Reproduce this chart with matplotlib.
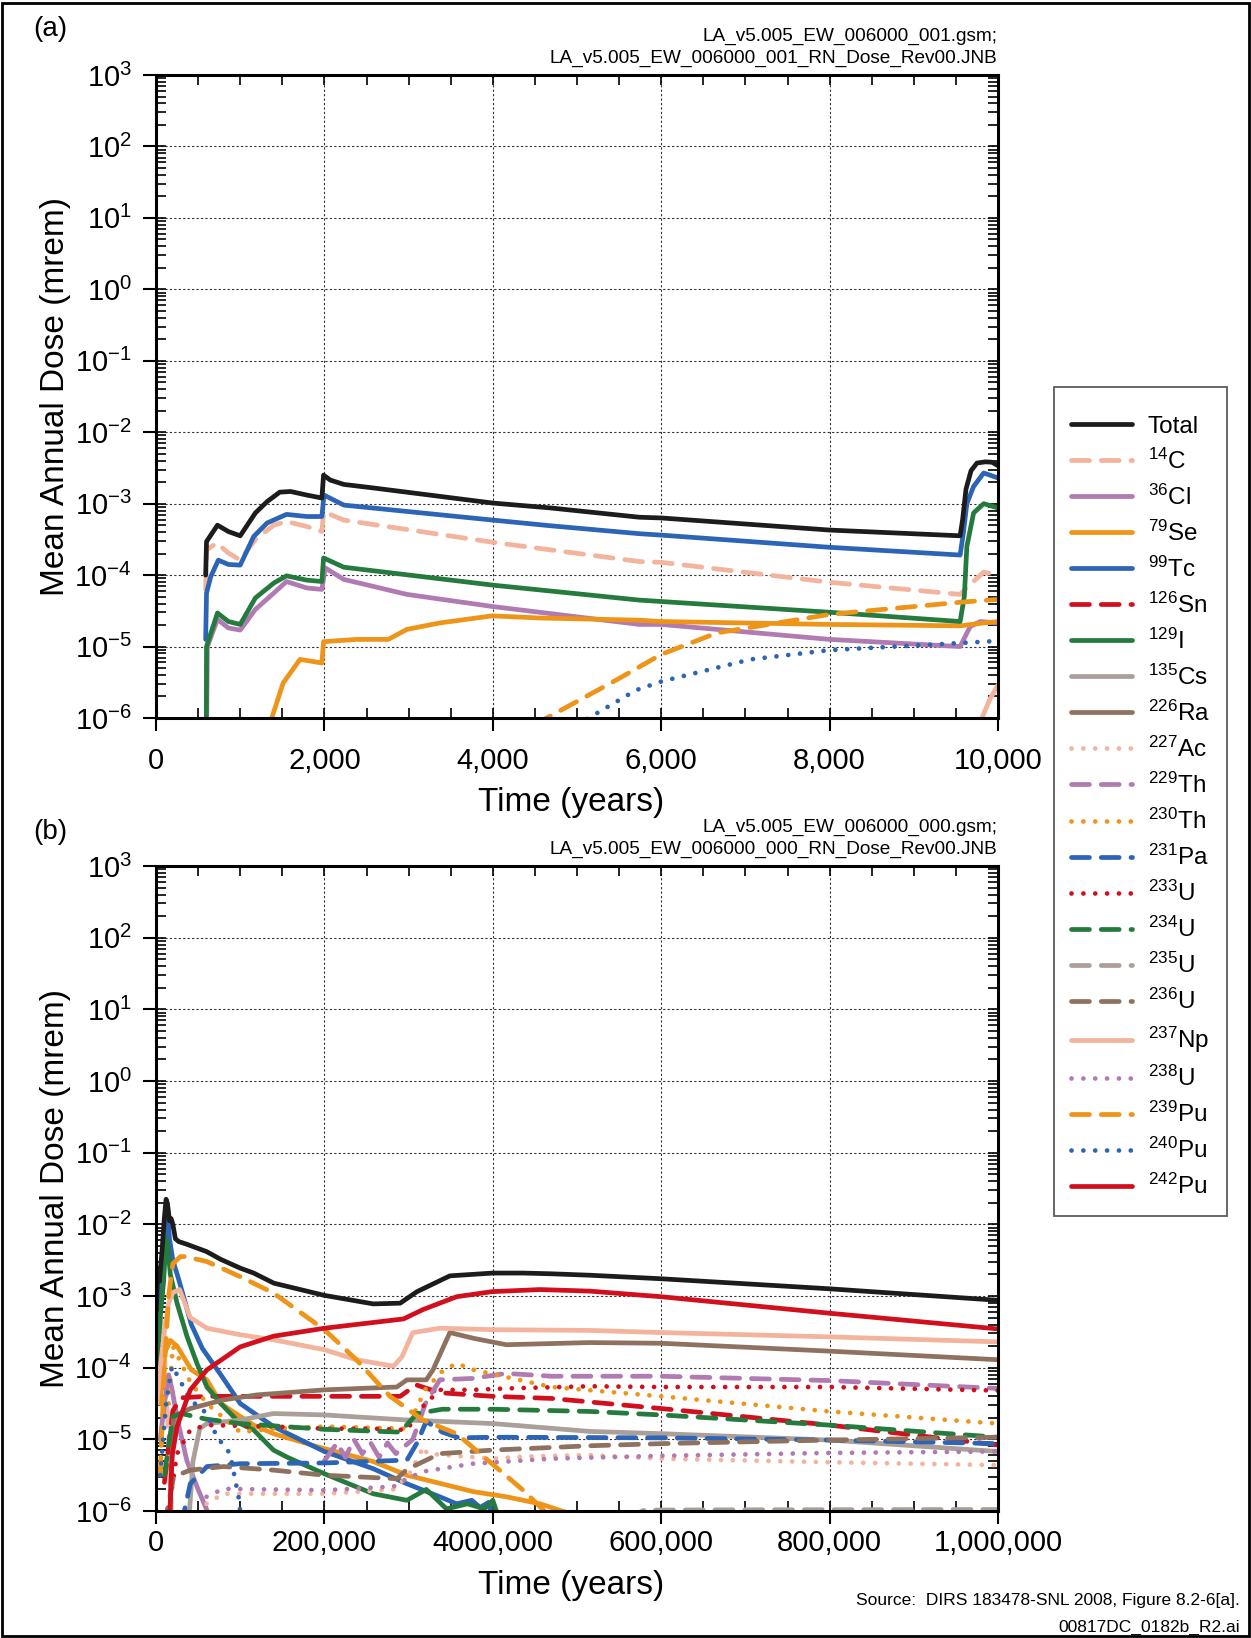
import matplotlib
matplotlib.use("Agg")
import matplotlib.pyplot as plt
from matplotlib.lines import Line2D
from matplotlib.patches import Rectangle
from matplotlib.ticker import MultipleLocator, LogLocator, NullFormatter

plt.rcParams['font.family'] = ['Liberation Sans', 'DejaVu Sans']
plt.rcParams['mathtext.fontset'] = 'custom'
plt.rcParams['mathtext.rm'] = 'Liberation Sans'
plt.rcParams['mathtext.it'] = 'Liberation Sans:italic'
plt.rcParams['mathtext.bf'] = 'Liberation Sans:bold'

# ---------------- legend / series definitions ----------------
nuclides = ['Total', '14C', '36Cl', '79Se', '99Tc', '126Sn', '129I', '135Cs', '226Ra',
            '227Ac', '229Th', '230Th', '231Pa', '233U', '234U', '235U', '236U',
            '237Np', '238U', '239Pu', '240Pu', '242Pu']
legend_labels = ['Total', r'$^{14}$C', r'$^{36}$Cl', r'$^{79}$Se', r'$^{99}$Tc', r'$^{126}$Sn',
                 r'$^{129}$I', r'$^{135}$Cs', r'$^{226}$Ra', r'$^{227}$Ac', r'$^{229}$Th',
                 r'$^{230}$Th', r'$^{231}$Pa', r'$^{233}$U', r'$^{234}$U', r'$^{235}$U',
                 r'$^{236}$U', r'$^{237}$Np', r'$^{238}$U', r'$^{239}$Pu', r'$^{240}$Pu',
                 r'$^{242}$Pu']
BLACK, SALMON, PURPLE, ORANGE = '#1c1c1c', '#F3B39C', '#B07AB2', '#EE9419'
BLUE, RED, GREEN, GRAY, BROWN = '#2C65B5', '#D2101D', '#257A3D', '#AA9F99', '#8E725F'
colors = [BLACK, SALMON, PURPLE, ORANGE, BLUE, RED, GREEN, GRAY, BROWN,
          SALMON, PURPLE, ORANGE, BLUE, RED, GREEN, GRAY, BROWN,
          SALMON, PURPLE, ORANGE, BLUE, RED]
styles = ['solid', 'dashed', 'solid', 'solid', 'solid', 'dashed', 'solid', 'solid', 'solid',
          'dotted', 'dashed', 'dotted', 'dashed', 'dotted', 'dashed', 'dashed', 'dashed',
          'solid', 'dotted', 'dashed', 'dotted', 'solid']

# ---------------- panel (a): 10,000 years ----------------
a_total_t = [590, 600, 730, 860, 1000, 1180, 1320, 1470, 1600, 1790, 1970, 1990, 2070, 2230, 2580,
             4000, 4690, 5740, 6000, 8000, 9550, 9580, 9620, 9680, 9750, 9850, 9930, 10000]
a_total_v = [1.0e-4, 2.95e-4, 5.0e-4, 4.07e-4, 3.55e-4, 7.41e-4, 1.07e-3, 1.45e-3, 1.48e-3, 1.32e-3,
             1.20e-3, 2.51e-3, 2.14e-3, 1.86e-3, 1.66e-3, 1.02e-3, 8.7e-4, 6.46e-4, 6.31e-4, 4.27e-4,
             3.55e-4, 6.0e-4, 1.6e-3, 2.9e-3, 3.7e-3, 3.85e-3, 3.8e-3, 3.4e-3]
a_tc99_t = [590, 600, 650, 740, 860, 1000, 1160, 1320, 1550, 1790, 1970, 1995, 2230, 4000, 4690, 5740,
            6000, 8000, 9550, 9590, 9630, 9710, 9830, 10000]
a_tc99_v = [1.26e-5, 5.62e-5, 9.5e-5, 1.62e-4, 1.41e-4, 1.38e-4, 3.47e-4, 5.37e-4, 7.08e-4, 6.61e-4,
            6.61e-4, 1.32e-3, 9.55e-4, 5.89e-4, 4.90e-4, 3.80e-4, 3.63e-4, 2.45e-4, 1.91e-4, 3.98e-4,
            1.0e-3, 1.74e-3, 2.69e-3, 2.29e-3]
a_c14_t = [590, 600, 720, 860, 1000, 1180, 1400, 1550, 1790, 1970, 1990, 2230, 4000, 5740, 6000, 8000,
           9550, 9650, 9830, 10000]
a_c14_v = [6.31e-5, 2.24e-4, 2.82e-4, 2.04e-4, 1.62e-4, 3.16e-4, 5.01e-4, 5.62e-4, 4.79e-4, 4.07e-4,
           7.76e-4, 5.89e-4, 2.88e-4, 1.55e-4, 1.51e-4, 7.94e-5, 5.37e-5, 7.08e-5, 1.10e-4, 1.0e-4]
a_i129_t = [595, 600, 730, 860, 1000, 1180, 1400, 1550, 1790, 1970, 1990, 2230, 4000, 5740, 6000, 8000,
            9550, 9600, 9630, 9710, 9830, 10000]
a_i129_v = [1e-7, 1.0e-5, 2.95e-5, 2.24e-5, 2.04e-5, 4.79e-5, 7.76e-5, 9.77e-5, 8.51e-5, 8.13e-5,
            1.74e-4, 1.29e-4, 7.24e-5, 4.47e-5, 4.27e-5, 3.02e-5, 2.24e-5, 5.0e-5, 2.51e-4, 7.41e-4,
            1.0e-3, 8.71e-4]
a_cl36_t = [595, 610, 730, 860, 1000, 1180, 1400, 1550, 1790, 1970, 2010, 2230, 2980, 4000, 5740, 6000,
            8000, 9550, 9670, 9790, 10000]
a_cl36_v = [1e-7, 1.0e-5, 2.40e-5, 1.82e-5, 1.70e-5, 3.31e-5, 5.62e-5, 8.13e-5, 6.61e-5, 6.31e-5,
            1.26e-4, 8.71e-5, 5.37e-5, 3.63e-5, 2.04e-5, 2.04e-5, 1.26e-5, 1.0e-5, 1.91e-5, 2.24e-5,
            2.14e-5]
a_se79_t = [1340, 1375, 1510, 1710, 1970, 1990, 2380, 2760, 2980, 3370, 3990, 4560, 5740, 6000, 8000,
            9550, 9830, 10000]
a_se79_v = [5e-7, 1.0e-6, 3.09e-6, 6.61e-6, 5.89e-6, 1.17e-5, 1.26e-5, 1.26e-5, 1.74e-5, 2.14e-5,
            2.69e-5, 2.51e-5, 2.34e-5, 2.24e-5, 2.04e-5, 1.95e-5, 2.14e-5, 2.24e-5]
a_pu239_t = [4500, 4640, 5480, 6000, 6660, 8000, 9550, 10000]
a_pu239_v = [7.94e-7, 1.0e-6, 3.47e-6, 7.76e-6, 1.55e-5, 2.82e-5, 4.17e-5, 4.57e-5]
a_pu240_t = [5000, 5140, 5700, 6000, 7060, 8000, 9550, 10000]
a_pu240_v = [7.94e-7, 1.0e-6, 2.45e-6, 3.24e-6, 6.61e-6, 8.91e-6, 1.12e-5, 1.20e-5]
a_np237_t = [9790, 9810, 9900, 10000]
a_np237_v = [5e-7, 1.0e-6, 1.8e-6, 2.9e-6]

# ---------------- panel (b): 1,000,000 years ----------------
b_total_t = [500, 2000, 4000, 7000, 10000, 12000, 14000, 16000, 18000, 20000, 23000, 27000, 37000,
             60000, 77000, 100000, 116000, 140000, 200000, 258000, 290000, 310000, 349000, 400000,
             436000, 470000, 515000, 600000, 800000, 1000000]
b_total_v = [6.3e-4, 2.4e-3, 1.6e-3, 4.0e-3, 1.26e-2, 2.24e-2, 1.78e-2, 1.12e-2, 1.2e-2, 1.0e-2,
             6.3e-3, 5.75e-3, 5.25e-3, 4.17e-3, 3.24e-3, 2.45e-3, 2.09e-3, 1.51e-3, 1.02e-3, 7.76e-4,
             7.94e-4, 1.15e-3, 1.91e-3, 2.09e-3, 2.09e-3, 2.04e-3, 1.95e-3, 1.74e-3, 1.26e-3, 8.71e-4]
b_pu242_t = [15000, 19000, 25000, 40700, 60500, 100000, 139500, 200000, 258000, 294000, 317000,
             357000, 399000, 456000, 515000, 600000, 800000, 1000000]
b_pu242_v = [3.16e-7, 5.75e-6, 1.51e-5, 4.90e-5, 9.33e-5, 1.95e-4, 2.75e-4, 3.55e-4, 4.27e-4,
             4.79e-4, 6.46e-4, 9.77e-4, 1.15e-3, 1.23e-3, 1.17e-3, 9.77e-4, 5.75e-4, 3.47e-4]
b_np237_t = [1000, 5000, 10000, 15000, 20000, 28000, 40700, 60500, 100000, 139500, 200000, 238000,
             282000, 292000, 305000, 337000, 400000, 515000, 600000, 800000, 1000000]
b_np237_v = [3.16e-5, 1.0e-4, 3.16e-4, 7.94e-4, 1.12e-3, 1.23e-3, 5.0e-4, 3.55e-4, 2.88e-4, 2.45e-4,
             1.78e-4, 1.29e-4, 1.05e-4, 1.41e-4, 3.09e-4, 3.55e-4, 3.39e-4, 3.31e-4, 3.09e-4, 2.69e-4,
             2.29e-4]
b_ra226_t = [15000, 21000, 40700, 80000, 120000, 200000, 286000, 298000, 321000, 329000, 349000,
             377000, 416000, 515000, 600000, 800000, 1000000]
b_ra226_v = [3.16e-7, 2.09e-5, 2.69e-5, 3.55e-5, 4.17e-5, 4.90e-5, 5.37e-5, 6.76e-5, 6.76e-5,
             9.33e-5, 3.09e-4, 2.57e-4, 2.09e-4, 2.24e-4, 2.19e-4, 1.70e-4, 1.29e-4]
b_pu239_t = [5000, 10000, 15000, 20000, 29000, 35000, 60500, 100000, 139500, 200000, 238000, 278000,
             317000, 357000, 399000, 436000, 470000]
b_pu239_v = [3.16e-6, 1.0e-4, 1.0e-3, 2.82e-3, 3.55e-3, 3.55e-3, 3.02e-3, 1.86e-3, 1.10e-3, 3.39e-4,
             1.29e-4, 3.98e-5, 1.86e-5, 1.20e-5, 4.57e-6, 1.95e-6, 7.94e-7]
b_tc99_t = [1000, 5000, 9000, 12000, 13500, 16000, 20000, 27000, 42000, 55000, 77000, 100000, 139500,
            200000, 258000, 298000, 337000, 357000, 375000, 385000, 395000, 402000]
b_tc99_v = [3.16e-4, 1.0e-3, 3.16e-3, 1.78e-2, 2.0e-2, 6.31e-3, 3.16e-3, 1.70e-3, 3.98e-4, 1.86e-4,
            7.94e-5, 3.16e-5, 1.51e-5, 6.76e-6, 3.89e-6, 2.40e-6, 1.58e-6, 1.26e-6, 1.41e-6, 1.12e-6,
            1.32e-6, 6.31e-7]
b_i129_t = [1000, 5000, 9000, 12000, 14000, 17000, 25000, 37000, 49000, 60500, 77000, 100000, 116000,
            139500, 156000, 200000, 258000, 298000, 321000, 345000, 370000, 390000, 400000, 410000]
b_i129_v = [1.0e-4, 5.01e-4, 1.58e-3, 6.31e-3, 5.01e-3, 2.0e-3, 7.94e-4, 2.69e-4, 1.12e-4, 5.37e-5,
            3.16e-5, 1.66e-5, 1.35e-5, 7.08e-6, 5.62e-6, 3.31e-6, 1.74e-6, 1.41e-6, 2.0e-6, 1.07e-6,
            1.26e-6, 1.07e-6, 1.41e-6, 6.31e-7]
b_se79_t = [5000, 10000, 17000, 25000, 42000, 60500, 77000, 100000, 116000, 139500, 191000, 258000,
            298000, 377000, 416000, 456000, 495000]
b_se79_v = [3.16e-5, 1.58e-4, 2.40e-4, 2.0e-4, 9.33e-5, 6.76e-5, 3.16e-5, 2.09e-5, 1.58e-5, 1.20e-5,
            7.94e-6, 4.90e-6, 3.16e-6, 1.86e-6, 1.58e-6, 1.26e-6, 8.91e-7]
b_pu240_t = [5000, 12000, 19000, 25000, 40700, 60500, 72000, 88000, 98000, 102000]
b_pu240_v = [3.16e-6, 3.16e-5, 1.05e-4, 7.94e-5, 3.55e-5, 2.29e-5, 1.10e-5, 6.31e-6, 1.58e-6, 6.31e-7]
b_sn126_t = [10000, 20000, 30000, 60500, 200000, 290000, 309000, 337000, 400000, 470000, 600000,
             800000, 1000000]
b_sn126_v = [2.51e-6, 2.51e-5, 3.80e-5, 3.98e-5, 3.98e-5, 3.98e-5, 5.75e-5, 4.47e-5, 3.98e-5, 3.72e-5,
             2.69e-5, 1.58e-5, 8.32e-6]
b_u234_t = [10000, 20000, 30000, 60000, 100000, 200000, 290000, 310000, 340000, 400000, 515000,
            600000, 800000, 1000000]
b_u234_v = [3.16e-6, 2.09e-5, 2.29e-5, 1.91e-5, 1.66e-5, 1.38e-5, 1.26e-5, 2.29e-5, 2.63e-5, 2.63e-5,
            2.45e-5, 2.19e-5, 1.58e-5, 1.07e-5]
b_cs135_t = [38000, 44000, 52000, 60500, 100000, 139500, 200000, 298000, 400000, 515000, 600000,
             800000, 1000000]
b_cs135_v = [5.01e-7, 5.01e-6, 1.41e-5, 1.66e-5, 1.86e-5, 2.29e-5, 2.19e-5, 1.86e-5, 1.66e-5,
             1.29e-5, 1.20e-5, 9.77e-6, 6.76e-6]
b_pa231_t = [30000, 40700, 60500, 100000, 200000, 298000, 310000, 321000, 340000, 360000, 400000,
             600000, 800000, 1000000]
b_pa231_v = [6.31e-7, 2.40e-6, 4.17e-6, 4.57e-6, 4.68e-6, 5.13e-6, 8.91e-6, 1.78e-5, 1.26e-5,
             1.05e-5, 1.07e-5, 1.05e-5, 9.77e-6, 8.71e-6]
b_u236_t = [10000, 21000, 40700, 80000, 139500, 200000, 286000, 298000, 337000, 400000, 515000,
            600000, 800000, 1000000]
b_u236_v = [6.31e-7, 3.02e-6, 3.72e-6, 4.17e-6, 3.72e-6, 3.16e-6, 2.82e-6, 3.80e-6, 6.31e-6, 7.08e-6,
            8.13e-6, 8.71e-6, 9.77e-6, 1.07e-5]
b_u238_t = [60000, 80000, 200000, 282000, 298000, 317000, 376000, 470000, 600000, 800000, 1000000]
b_u238_v = [1.58e-6, 2.04e-6, 1.95e-6, 2.19e-6, 2.82e-6, 3.55e-6, 4.57e-6, 5.37e-6, 5.89e-6, 6.46e-6,
            6.76e-6]
b_ac227_t = [60000, 80000, 200000, 282000, 300000, 318000, 322000, 400000, 436000, 515000, 600000,
             800000, 1000000]
b_ac227_v = [1.26e-6, 1.74e-6, 1.74e-6, 2.0e-6, 3.16e-6, 7.94e-6, 6.31e-6, 5.37e-6, 5.75e-6, 6.03e-6,
             5.37e-6, 4.79e-6, 4.37e-6]
b_u233_t = [15000, 25000, 40700, 60500, 139500, 200000, 258000, 298000, 317000, 337000, 376000,
            416000, 515000, 600000, 800000, 1000000]
b_u233_v = [1.0e-6, 6.31e-6, 1.35e-5, 1.58e-5, 1.51e-5, 1.41e-5, 1.41e-5, 1.35e-5, 2.88e-5, 4.90e-5,
            4.90e-5, 5.13e-5, 5.50e-5, 5.37e-5, 5.37e-5, 4.79e-5]
b_th230_t = [15000, 20000, 40700, 60500, 100000, 139500, 200000, 298000, 320000, 340000, 357000,
             377000, 470000, 600000, 800000, 1000000]
b_th230_v = [3.16e-5, 2.0e-4, 6.31e-5, 3.16e-5, 1.26e-5, 1.41e-5, 1.51e-5, 1.41e-5, 5.01e-5, 8.91e-5,
             1.15e-4, 9.33e-5, 5.37e-5, 3.98e-5, 2.45e-5, 1.66e-5]
b_th229_t = [200000, 215000, 225000, 235000, 245000, 255000, 265000, 275000, 285000, 295000, 305000,
             320000, 337000, 376000, 416000, 470000, 600000, 800000, 1000000]
b_th229_v = [5.01e-6, 8.91e-6, 5.62e-6, 1.0e-5, 6.31e-6, 8.91e-6, 5.62e-6, 8.91e-6, 6.31e-6, 7.94e-6,
             1.0e-5, 3.16e-5, 6.76e-5, 7.08e-5, 8.32e-5, 7.59e-5, 7.59e-5, 6.61e-5, 5.13e-5]
b_cl36_t = [5000, 10000, 15000, 19000, 25000, 36700, 50000, 64500]
b_cl36_v = [1.0e-5, 3.16e-5, 7.94e-5, 5.01e-5, 2.0e-5, 5.01e-6, 2.0e-6, 7.94e-7]
b_c14_t = [1000, 5000, 10000, 15000, 20000]
b_c14_v = [3.2e-4, 6.3e-4, 1.6e-4, 1.0e-5, 3e-7]
b_u235_t = [560000, 580000, 700000, 1000000]
b_u235_v = [8e-7, 1.03e-6, 1.04e-6, 1.05e-6]

panel_a = {'Total': (a_total_t, a_total_v), '14C': (a_c14_t, a_c14_v), '36Cl': (a_cl36_t, a_cl36_v),
           '79Se': (a_se79_t, a_se79_v), '99Tc': (a_tc99_t, a_tc99_v), '129I': (a_i129_t, a_i129_v),
           '237Np': (a_np237_t, a_np237_v), '239Pu': (a_pu239_t, a_pu239_v),
           '240Pu': (a_pu240_t, a_pu240_v)}
panel_b = {'14C': (b_c14_t, b_c14_v), '36Cl': (b_cl36_t, b_cl36_v), '79Se': (b_se79_t, b_se79_v),
           '99Tc': (b_tc99_t, b_tc99_v), '129I': (b_i129_t, b_i129_v), '240Pu': (b_pu240_t, b_pu240_v),
           '238U': (b_u238_t, b_u238_v), '227Ac': (b_ac227_t, b_ac227_v), '236U': (b_u236_t, b_u236_v),
           '231Pa': (b_pa231_t, b_pa231_v), '135Cs': (b_cs135_t, b_cs135_v),
           '234U': (b_u234_t, b_u234_v), '126Sn': (b_sn126_t, b_sn126_v), '233U': (b_u233_t, b_u233_v),
           '230Th': (b_th230_t, b_th230_v), '229Th': (b_th229_t, b_th229_v),
           '235U': (b_u235_t, b_u235_v), '239Pu': (b_pu239_t, b_pu239_v),
           '226Ra': (b_ra226_t, b_ra226_v), '237Np': (b_np237_t, b_np237_v),
           '242Pu': (b_pu242_t, b_pu242_v), 'Total': (b_total_t, b_total_v)}

a_xticks = [0, 2000, 4000, 6000, 8000, 10000]
a_xticklabels = ['0', '2,000', '4,000', '6,000', '8,000', '10,000']
b_xticks = [0, 200000, 400000, 600000, 800000, 1000000]
b_xticklabels = ['0', '200,000', '4000,000', '600,000', '800,000', '1,000,000']

# ---------------- drawing ----------------
W, H = 1251, 1638
fig = plt.figure(figsize=(W / 100, H / 100), dpi=100)
fig.patch.set_facecolor('white')

LW = 3.4
DASHES = {'solid': None, 'dashed': (3.8, 2.5), 'dotted': (0.01, 2.5)}


def style_kwargs(name):
    i = nuclides.index(name)
    kw = dict(color=colors[i], lw=LW, solid_capstyle='round', dash_capstyle='round',
              solid_joinstyle='round')
    if DASHES[styles[i]] is not None:
        kw['dashes'] = DASHES[styles[i]]
    return kw


def setup(ax, xmax, xticks, xticklabels, minor_step, xpad, xlabel_y):
    ax.set_yscale('log')
    ax.set_ylim(1e-6, 1e3)
    ax.set_xlim(0, xmax)
    ax.set_xticks(xticks)
    ax.set_xticklabels(xticklabels)
    ax.xaxis.set_minor_locator(MultipleLocator(minor_step))
    ax.xaxis.remove_overlapping_locs = False
    ax.yaxis.set_major_locator(LogLocator(base=10, numticks=20))
    ax.yaxis.set_minor_locator(LogLocator(base=10, subs=range(1, 10), numticks=200))
    ax.yaxis.set_minor_formatter(NullFormatter())
    ax.yaxis.remove_overlapping_locs = False
    ax.tick_params(which='major', direction='out', length=9.5, width=1.5, labelsize=21,
                   left=True, bottom=True, top=False, right=False)
    ax.tick_params(axis='y', which='major', pad=8)
    ax.tick_params(axis='x', which='major', pad=xpad)
    ax.tick_params(which='minor', direction='in', length=7, width=1.2,
                   left=True, bottom=True, top=True, right=True)
    ax.grid(True, which='major', linestyle=(0, (2, 2)), color='#333333', lw=0.8)
    ax.set_axisbelow(True)
    for s in ax.spines.values():
        s.set_linewidth(2.2)
    ax.set_ylabel('Mean Annual Dose (mrem)', fontsize=24)
    ax.yaxis.set_label_coords(-0.101, 0.5)
    ax.set_xlabel('Time (years)', fontsize=24)
    ax.xaxis.set_label_coords(0.493, xlabel_y)


left = 156 / W
width = (998 - 156) / W
ax_a = fig.add_axes([left, 1 - 718 / H, width, (718 - 75) / H])
ax_b = fig.add_axes([left, 1 - 1511 / H, width, (1511 - 866) / H])

setup(ax_a, 10000, a_xticks, a_xticklabels, 500, 11.7, -0.1075)
setup(ax_b, 1000000, b_xticks, b_xticklabels, 50000, 3.8, -0.091)

order = nuclides[1:] + ['Total']
for name in order:
    if name in panel_a:
        t, v = panel_a[name]
        ax_a.plot(t, v, **style_kwargs(name))
    if name in panel_b:
        t, v = panel_b[name]
        ax_b.plot(t, v, **style_kwargs(name))

handles = [Line2D([], [], **style_kwargs(n)) for n in nuclides]
leg = fig.legend(handles, legend_labels, loc='upper left',
                 bbox_to_anchor=(1054 / W, 1 - 387 / H), bbox_transform=fig.transFigure,
                 borderaxespad=0, frameon=True, fancybox=False, fontsize=17.5,
                 handlelength=2.5, handletextpad=0.65, labelspacing=0.445, borderpad=0.7,
                 title=' ', title_fontsize=1)
leg.get_frame().set_edgecolor('#333333')
leg.get_frame().set_linewidth(1.3)

fig.text(50 / W, 1 - 29 / H, '(a)', ha='center', va='center', fontsize=20)
fig.text(997 / W, 1 - 36.5 / H, 'LA_v5.005_EW_006000_001.gsm;', ha='right', va='center',
         fontsize=13.7)
fig.text(997 / W, 1 - 58.5 / H, 'LA_v5.005_EW_006000_001_RN_Dose_Rev00.JNB', ha='right',
         va='center', fontsize=13.7)
fig.text(50 / W, 1 - 832 / H, '(b)', ha='center', va='center', fontsize=20)
fig.text(997 / W, 1 - 827 / H, 'LA_v5.005_EW_006000_000.gsm;', ha='right', va='center',
         fontsize=13.7)
fig.text(997 / W, 1 - 849 / H, 'LA_v5.005_EW_006000_000_RN_Dose_Rev00.JNB', ha='right',
         va='center', fontsize=13.7)
fig.text(1240 / W, 1 - 1601 / H, 'Source:  DIRS 183478-SNL 2008, Figure 8.2-6[a].', ha='right',
         va='center', fontsize=12.5)
fig.text(1240 / W, 1 - 1627 / H, '00817DC_0182b_R2.ai', ha='right', va='center', fontsize=12.5)

fig.patches.append(Rectangle((2 / W, 2 / H), (W - 4) / W, (H - 5) / H, transform=fig.transFigure,
                             fill=False, edgecolor='black', lw=2))

fig.savefig('out.png', dpi=100)
